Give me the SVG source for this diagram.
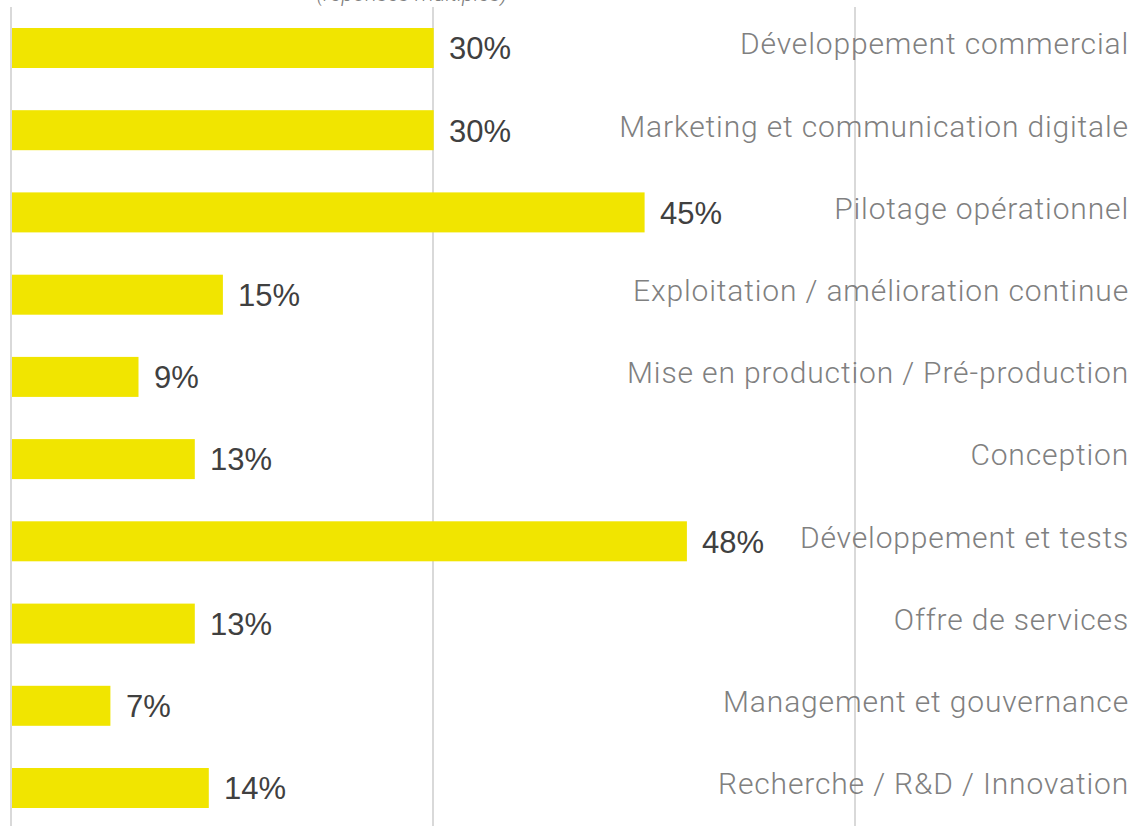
<svg xmlns="http://www.w3.org/2000/svg" width="1135" height="826" viewBox="0 0 1135 826">
<style>
.grid{stroke:#d9d9d9;stroke-width:2}
.bar{fill:#f1e500}
.val{font-family:"Liberation Sans",Arial,sans-serif;font-size:31px;fill:#404040}
.cat{font-family:Roboto,"Liberation Sans",sans-serif;font-weight:300;font-size:30px;letter-spacing:0.85px;fill:#808080;text-anchor:end}
.note{font-family:Roboto,"Liberation Sans",sans-serif;font-style:italic;font-weight:300;font-size:22px;fill:#808080;text-anchor:middle}
</style>
<rect width="1135" height="826" fill="#ffffff"/>
<text class="note" x="412" y="1">(réponses multiples)</text>
<g id="grid">
<line class="grid" x1="11" y1="7" x2="11" y2="826"/>
<line class="grid" x1="433" y1="7" x2="433" y2="826"/>
<line class="grid" x1="855" y1="7" x2="855" y2="826"/>
</g>
<g id="row1"><rect class="bar" x="12" y="28" width="421.7" height="40"/><text class="val" x="449" y="59.3">30%</text><text class="cat" x="1129" y="54.3">Développement commercial</text></g>
<g id="row2"><rect class="bar" x="12" y="110.2" width="421.7" height="40"/><text class="val" x="449" y="141.5">30%</text><text class="cat" x="1129" y="136.5">Marketing et communication digitale</text></g>
<g id="row3"><rect class="bar" x="12" y="192.4" width="632.6" height="40"/><text class="val" x="660" y="223.7">45%</text><text class="cat" x="1129" y="218.7">Pilotage opérationnel</text></g>
<g id="row4"><rect class="bar" x="12" y="274.7" width="210.9" height="40"/><text class="val" x="238" y="306">15%</text><text class="cat" x="1129" y="301">Exploitation / amélioration continue</text></g>
<g id="row5"><rect class="bar" x="12" y="356.9" width="126.5" height="40"/><text class="val" x="154" y="388.2">9%</text><text class="cat" x="1129" y="383.2">Mise en production / Pré-production</text></g>
<g id="row6"><rect class="bar" x="12" y="439.1" width="182.8" height="40"/><text class="val" x="210" y="470.4">13%</text><text class="cat" x="1129" y="465.4">Conception</text></g>
<g id="row7"><rect class="bar" x="12" y="521.3" width="674.9" height="40"/><text class="val" x="702" y="552.6">48%</text><text class="cat" x="1129" y="547.6">Développement et tests</text></g>
<g id="row8"><rect class="bar" x="12" y="603.6" width="182.8" height="40"/><text class="val" x="210" y="634.9">13%</text><text class="cat" x="1129" y="629.9">Offre de services</text></g>
<g id="row9"><rect class="bar" x="12" y="685.8" width="98.4" height="40"/><text class="val" x="126" y="717.1">7%</text><text class="cat" x="1129" y="712.1">Management et gouvernance</text></g>
<g id="row10"><rect class="bar" x="12" y="768" width="196.8" height="40"/><text class="val" x="224" y="799.3">14%</text><text class="cat" x="1129" y="794.3">Recherche / R&amp;D / Innovation</text></g>
</svg>
